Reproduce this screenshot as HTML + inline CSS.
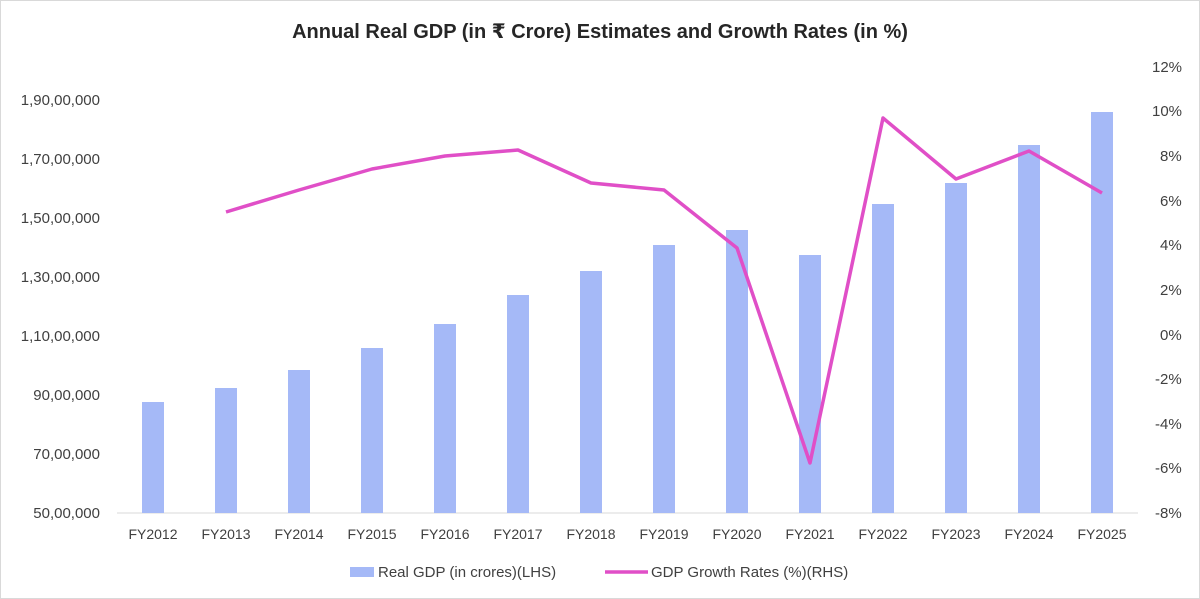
<!DOCTYPE html>
<html><head><meta charset="utf-8"><style>
html,body{margin:0;padding:0;background:#fff;}
svg{display:block;font-family:"Liberation Sans","DejaVu Sans",sans-serif;}
</style></head><body>
<svg width="1200" height="599" viewBox="0 0 1200 599">
<rect x="0.5" y="0.5" width="1199" height="598" fill="#fff" stroke="#d9d9d9"/>
<text x="600" y="38" text-anchor="middle" font-size="20" font-weight="bold" fill="#262626">Annual Real GDP (in ₹ Crore) Estimates and Growth Rates (in %)</text>
<g font-size="15" fill="#404040" text-anchor="end">
<text x="100" y="105">1,90,00,000</text>
<text x="100" y="164">1,70,00,000</text>
<text x="100" y="223">1,50,00,000</text>
<text x="100" y="282">1,30,00,000</text>
<text x="100" y="341">1,10,00,000</text>
<text x="100" y="400">90,00,000</text>
<text x="100" y="459">70,00,000</text>
<text x="100" y="518">50,00,000</text>
</g>
<g font-size="15" fill="#404040" text-anchor="start">
<text x="1152" y="72">12%</text>
<text x="1152" y="116">10%</text>
<text x="1160" y="161">8%</text>
<text x="1160" y="206">6%</text>
<text x="1160" y="250">4%</text>
<text x="1160" y="295">2%</text>
<text x="1160" y="340">0%</text>
<text x="1155" y="384">-2%</text>
<text x="1155" y="429">-4%</text>
<text x="1155" y="473">-6%</text>
<text x="1155" y="518">-8%</text>
</g>
<line x1="117" y1="513" x2="1138" y2="513" stroke="#d9d9d9"/>
<g fill="#a5b9f7">
<rect x="142" y="402" width="22" height="111"/>
<rect x="215" y="388" width="22" height="125"/>
<rect x="288" y="370" width="22" height="143"/>
<rect x="361" y="348" width="22" height="165"/>
<rect x="434" y="324" width="22" height="189"/>
<rect x="507" y="295" width="22" height="218"/>
<rect x="580" y="271" width="22" height="242"/>
<rect x="653" y="245" width="22" height="268"/>
<rect x="726" y="230" width="22" height="283"/>
<rect x="799" y="255" width="22" height="258"/>
<rect x="872" y="204" width="22" height="309"/>
<rect x="945" y="183" width="22" height="330"/>
<rect x="1018" y="145" width="22" height="368"/>
<rect x="1091" y="112" width="22" height="401"/>
</g>
<polyline fill="none" stroke="#e04fc7" stroke-width="3.5" stroke-linejoin="round" points="226,212 299,190 372,169 445,156 518,150 591,183 664,190 737,248 810,463 883,118 956,179 1029,151 1102,193"/>
<g font-size="14" fill="#404040" text-anchor="middle">
<text x="153" y="539">FY2012</text><text x="226" y="539">FY2013</text><text x="299" y="539">FY2014</text><text x="372" y="539">FY2015</text><text x="445" y="539">FY2016</text><text x="518" y="539">FY2017</text><text x="591" y="539">FY2018</text><text x="664" y="539">FY2019</text><text x="737" y="539">FY2020</text><text x="810" y="539">FY2021</text><text x="883" y="539">FY2022</text><text x="956" y="539">FY2023</text><text x="1029" y="539">FY2024</text><text x="1102" y="539">FY2025</text>
</g>
<rect x="350" y="567" width="24" height="10" fill="#a5b9f7"/>
<text x="378" y="577" font-size="15" fill="#404040">Real GDP (in crores)(LHS)</text>
<line x1="605" y1="572" x2="648" y2="572" stroke="#e04fc7" stroke-width="3.5"/>
<text x="651" y="577" font-size="15" fill="#404040">GDP Growth Rates (%)(RHS)</text>
</svg>
</body></html>
